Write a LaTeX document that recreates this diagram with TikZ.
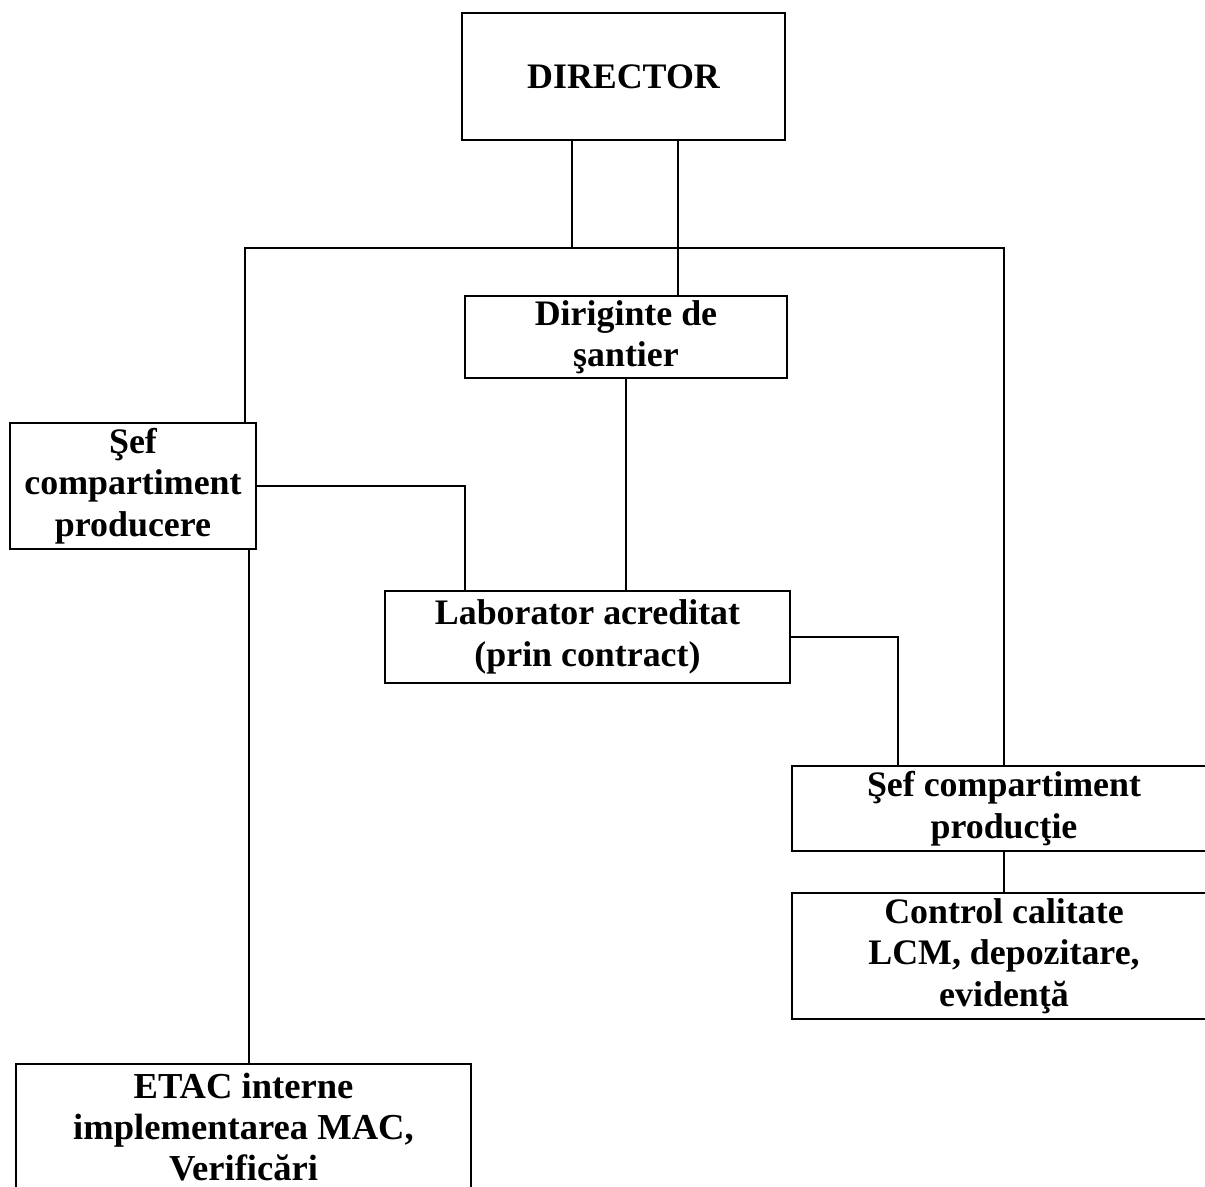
\documentclass[tikz,border=0pt]{standalone}
\usepackage{fontspec}
\setmainfont{Liberation Serif}
\usepackage{tikz}

\begin{document}
\begin{tikzpicture}[x=0.01cm,y=-0.01cm,
    unit/.style={draw,line width=0.7pt,align=center,inner sep=0pt,
      font=\fontsize{10.2}{11.8}\selectfont\bfseries},
    link/.style={line width=0.6pt}]

  \useasboundingbox (0,0) rectangle (1205,1187);
  \clip (0,0) rectangle (1205,1187);

  \node[unit,minimum width=3.23cm,minimum height=1.27cm] (director) at (623.5,76.5) {DIRECTOR};
  \node[unit,minimum width=3.22cm,minimum height=0.82cm] (diriginte) at (626,337) {Diriginte de\\şantier};
  \node[unit,minimum width=2.46cm,minimum height=1.26cm] (sefprod) at (133,486) {Şef\\compartiment\\producere};
  \node[unit,minimum width=4.05cm,minimum height=0.92cm] (laborator) at (587.5,637) {Laborator acreditat\\(prin contract)};
  \node[unit,minimum width=4.24cm,minimum height=0.85cm] (sefproductie) at (1004,808.5) {Şef compartiment\\producţie};
  \node[unit,minimum width=4.24cm,minimum height=1.26cm] (control) at (1004,956) {Control calitate\\LCM, depozitare,\\evidenţă};
  \node[unit,minimum width=4.55cm,minimum height=1.26cm,
    font=\fontsize{10.4}{11.6}\selectfont\bfseries] (etac) at (243.5,1127) {ETAC interne\\implementarea MAC,\\Verificări};

  \draw[link]
    (572,0 |- director.south) -- (572,248);
  \draw[link]
    (sefprod.north -| 245,0) -- (245,248) -- (1004,248) -- (sefproductie.north);
  \draw[link]
    (678,0 |- director.south) -- (678,0 |- diriginte.north);
  \draw[link]
    (diriginte.south) -- (diriginte.south |- laborator.north);
  \draw[link]
    (sefprod.east) -| (465,0 |- laborator.north);
  \draw[link]
    (laborator.east) -| (898,0 |- sefproductie.north);
  \draw[link]
    (sefproductie.south) -- (control.north);
  \draw[link]
    (249,0 |- sefprod.south) -- (249,0 |- etac.north);
\end{tikzpicture}
\end{document}
